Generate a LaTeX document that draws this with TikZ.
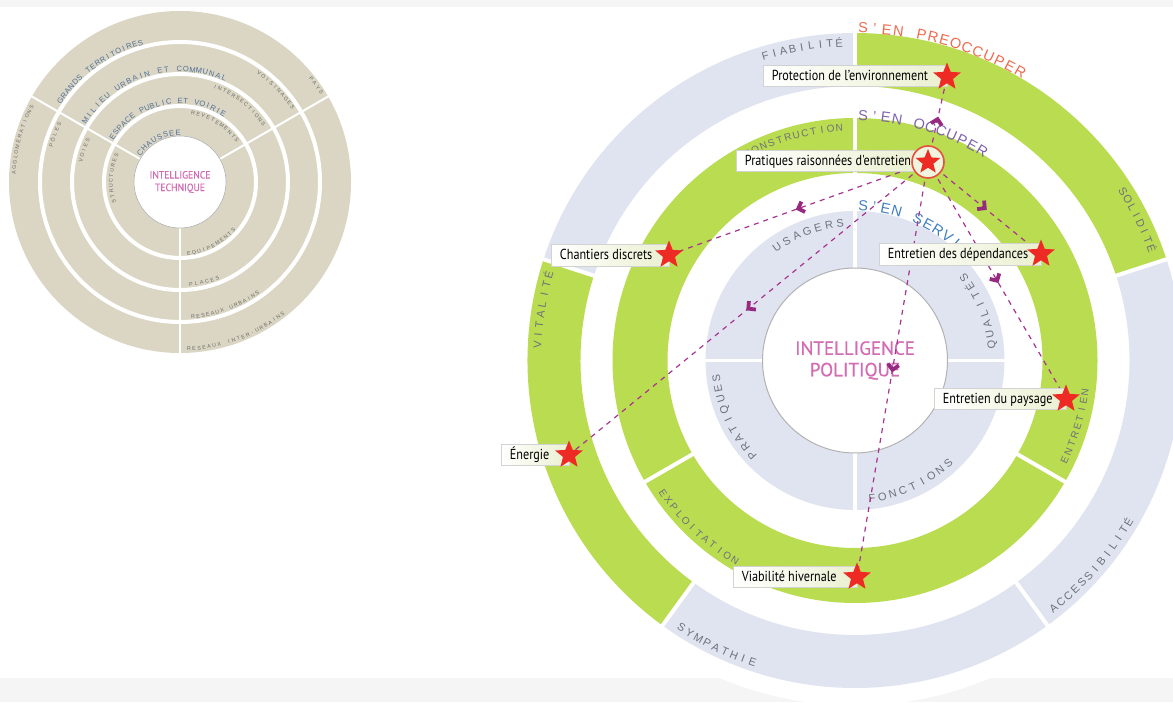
\documentclass[tikz,border=0pt]{standalone}
\usepackage{fontspec}
\setmainfont{Liberation Sans}
\newfontfamily\labfont[FakeStretch=0.84]{PT Sans}
\newfontfamily\ptfont[FakeBold=0.5]{PT Sans}
\newfontfamily\ptcond[FakeStretch=0.92,FakeBold=0.3]{PT Sans}
\usetikzlibrary{shapes.geometric,decorations.markings}
\pgfdeclarelayer{bg}
\pgfdeclarelayer{lines}
\pgfsetlayers{bg,lines,main}

\definecolor{ringgreen}{HTML}{BADC50}
\definecolor{ringblue}{HTML}{E0E4F0}
\definecolor{tanbg}{HTML}{DBD6C3}
\definecolor{txtgray}{HTML}{6E717A}
\definecolor{smallgray}{HTML}{6A6A6A}
\definecolor{pinkt}{HTML}{D36CB2}
\definecolor{orangeh}{HTML}{F0694C}
\definecolor{purpleh}{HTML}{7E62AE}
\definecolor{blueh}{HTML}{3F7FBF}
\definecolor{slate}{HTML}{50709A}
\definecolor{dashc}{HTML}{A8348F}
\definecolor{arrowc}{HTML}{962A80}
\definecolor{starred}{HTML}{EE2A24}
\definecolor{boxline}{HTML}{D2D2D2}
\definecolor{boxgreen}{HTML}{EAF0D0}
\definecolor{bandgray}{HTML}{F5F5F5}
\definecolor{circred}{HTML}{E5503F}
\definecolor{circfill}{HTML}{F0F3DD}

% characters along an arc: #1 centre, #2 baseline radius, #3 start angle, #4 step, #5 rotation offset, #6 style, #7 name prefix, #8 characters
\newcommand\arcchars[8]{%
  \foreach \ch [count=\k from 0] in {#8}{%
    \pgfmathsetmacro\ang{#3+\k*(#4)}%
    \node[#6, rotate={\ang+(#5)}] (#7-\k) at ([shift={(\ang:#2)}]#1) {\ch};
  }%
}
% annular sector: #1 style, #2 centre, #3 inner r, #4 outer r, #5 a1, #6 a2
\newcommand\annsec[6]{%
  \fill[#1] ([shift={(#5:#4)}]#2) arc[start angle=#5,end angle=#6,radius=#4]
    -- ([shift={(#6:#3)}]#2) arc[start angle=#6,end angle=#5,radius=#3] -- cycle;}
% radial separator: #1 centre, #2 r1, #3 r2, #4 angle, #5 width
\newcommand\radsep[5]{%
  \draw[sepline=#5] ([shift={(#4:#2)}]#1) -- ([shift={(#4:#3)}]#1);}

\tikzset{
  ctxt/.style={anchor=base, inner sep=0pt},
  otxt/.style={ctxt, font=\fontsize{11}{13}\selectfont, text=txtgray},
  mtxt/.style={ctxt, font=\fontsize{10}{12}\selectfont, text=txtgray},
  itxt/.style={ctxt, font=\fontsize{11}{13}\selectfont, text=txtgray},
  htxt/.style={ctxt, font=\fontsize{14.5}{16}\selectfont},
  ltitle/.style={ctxt, font=\fontsize{7.6}{10}\selectfont, text=slate},
  lsmall/.style={ctxt, font=\fontsize{5.3}{7}\selectfont, text=smallgray},
  labbox/.style={draw=boxline, line width=0.8pt, left color=white, right color=boxgreen,
    anchor=west, inner xsep=8.5pt, inner ysep=0pt, minimum height=21.5pt,
    text height=11pt, text depth=2pt, font=\labfont\fontsize{14.5}{16}\selectfont, text=black},
  starn/.style={star, star points=5, star point ratio=2.3, fill=starred, draw=none,
    minimum size=29pt, inner sep=0pt},
  sepline/.style={draw=white, line width=#1},
  conn/.style={draw=dashc, line width=1.2pt, dash pattern=on 5pt off 5pt,
    postaction={decorate},
    decoration={markings, mark=at position 0.5 with
      {\draw[solid, draw=arrowc, line width=3.8pt, line join=miter, line cap=butt] (-5pt,5.5pt) -- (0.3pt,0pt) -- (-5pt,-5.5pt);}}},
}

\begin{document}
\begin{tikzpicture}[x=1pt,y=1pt]
\useasboundingbox (0,0) rectangle (1173,702);
\coordinate (C) at (855,341.5);
\coordinate (L) at (180,520);

\begin{pgfonlayer}{bg}
% background
\fill[white] (0,0) rectangle (1173,702);
\fill[bandgray] (0,695) rectangle (1173,702);
\fill[bandgray] (0,0) rectangle (1173,24);
\fill[white] (C) circle (345);

% ---------- left diagram ----------
\fill[tanbg] (L) circle (171);
\foreach \r in {76,108,140} {\draw[sepline=4] (L) circle (\r);}
\radsep{L}{45}{172}{30}{2}
\radsep{L}{45}{172}{150}{2}
\radsep{L}{45}{172}{270}{2}
\node[circle, draw=black!30, line width=0.6pt, fill=white, minimum size=92pt, inner sep=0pt,
  font=\ptcond\fontsize{10.5}{12.5}\selectfont, text=pinkt, align=center] (tcore) at (L) {INTELLIGENCE\\TECHNIQUE};

\arcchars{L}{142.1}{145.7}{-2.34}{-90}{ltitle}{gt}{G,R,A,N,D,S,,T,E,R,R,I,T,O,I,R,E,S}
\arcchars{L}{110.3}{146.9}{-3.33}{-90}{ltitle}{mu}{M,I,L,I,E,U,,U,R,B,A,I,N,,E,T,,C,O,M,M,U,N,A,L}
\arcchars{L}{78.6}{146.1}{-4.01}{-90}{ltitle}{ep}{E,S,P,A,C,E,,P,U,B,L,I,C,,E,T,,V,O,I,R,I,E}
\arcchars{L}{46.8}{144}{-7.39}{-90}{ltitle}{ch}{C,H,A,U,S,S,E,E}
\arcchars{L}{164.6}{176.9}{-1.83}{-90}{lsmall}{ag}{A,G,G,L,O,M,É,R,A,T,I,O,N,S}
\arcchars{L}{132}{164.1}{-2.375}{-90}{lsmall}{po}{P,Ô,L,E,S}
\arcchars{L}{99.7}{167.6}{-3.03}{-90}{lsmall}{vo}{V,O,I,E,S}
\arcchars{L}{67.3}{196.6}{-4.42}{-90}{lsmall}{st}{S,T,R,U,C,T,U,R,E,S}
\arcchars{L}{165.3}{38.2}{-1.93}{-90}{lsmall}{pa}{P,A,Y,S}
\arcchars{L}{133}{54.1}{-2.28}{-90}{lsmall}{vs}{V,O,I,S,I,N,A,G,E,S}
\arcchars{L}{99.8}{69.8}{-2.89}{-90}{lsmall}{in}{I,N,T,E,R,S,E,C,T,I,O,N,S}
\arcchars{L}{68.5}{79.3}{-4.29}{-90}{lsmall}{re}{R,E,V,E,T,E,M,E,N,T,S}
\arcchars{L}{73.5}{277.2}{4.06}{90}{lsmall}{eq}{E,Q,U,I,P,E,M,E,N,T,S}
\arcchars{L}{104.8}{276.1}{3.04}{90}{lsmall}{pl}{P,L,A,C,E,S}
\arcchars{L}{137.2}{275.6}{2.08}{90}{lsmall}{ru}{R,E,S,E,A,U,X,,U,R,B,A,I,N,S}
\arcchars{L}{169}{273.1}{1.735}{90}{lsmall}{ri}{R,E,S,E,A,U,X,,I,N,T,E,R,-,U,R,B,A,I,N,S}

% ---------- right diagram ----------
% outer ring
\annsec{ringblue}{C}{274.5}{327.5}{90}{162}
\annsec{ringgreen}{C}{274.5}{327.5}{162}{234}
\annsec{ringblue}{C}{274.5}{327.5}{234}{306}
\annsec{ringblue}{C}{274.5}{327.5}{306}{378}
\annsec{ringgreen}{C}{274.5}{327.5}{18}{90}
% middle ring
\fill[ringgreen, even odd rule] (C) circle (242.5) (C) circle (187.5);
% inner ring
\fill[ringblue, even odd rule] (C) circle (149.5) (C) circle (92.5);
% separators
\foreach \a in {18,90,162,234,306} {\radsep{C}{273}{329}{\a}{4}}
\foreach \a in {90,210,330} {\radsep{C}{186}{244}{\a}{4}}
\foreach \a in {0,90,180,270} {\radsep{C}{92}{151}{\a}{3.5}}
\node[circle, draw=black!30, line width=1pt, fill=white, minimum size=185pt, inner sep=0pt,
  font=\ptfont\fontsize{19}{21.5}\selectfont, text=pinkt, align=center] (core) at (C) {INTELLIGENCE\\POLITIQUE};

% ring texts
\arcchars{C}{314}{106.4}{-1.69}{-90}{otxt}{fia}{F,I,A,B,I,L,I,T,É}
\arcchars{C}{313}{32.2}{-1.64}{-90}{otxt}{sol}{S,O,L,I,D,I,T,É}
\arcchars{C}{314}{177.2}{-1.84}{-90}{otxt}{vit}{V,I,T,A,L,I,T,É}
\arcchars{C}{322.5}{237}{1.78}{90}{otxt}{sym}{S,Y,M,P,A,T,H,I,E}
\arcchars{C}{321.5}{308.7}{1.73}{90}{otxt}{acc}{A,C,C,E,S,S,I,B,I,L,I,T,É}
\arcchars{C}{229.5}{117.5}{-2.15}{-90}{mtxt}{con}{C,O,N,S,T,R,U,C,T,I,O,N}
\arcchars{C}{235.6}{334.6}{2.2}{90}{mtxt}{ent}{E,N,T,R,E,T,I,E,N}
\arcchars{C}{236.6}{214.6}{2.22}{90}{mtxt}{exp}{E,X,P,L,O,I,T,A,T,I,O,N}
\arcchars{C}{134}{124.5}{-4.72}{-90}{itxt}{usa}{U,S,A,G,E,R,S}
\arcchars{C}{141}{6.5}{4.39}{90}{itxt}{qua}{Q,U,A,L,I,T,É,S}
\arcchars{C}{136}{222.6}{-4.43}{-90}{itxt}{pra}{P,R,A,T,I,Q,U,E,S}
\arcchars{C}{142.5}{277}{4.4}{90}{itxt}{fon}{F,O,N,C,T,I,O,N,S}
% headings
\arcchars{C}{327.5}{88.6}{-2.03}{-90}{htxt,text=orangeh}{pre}{S,',E,N,,P,R,E,O,C,C,U,P,E,R}
\arcchars{C}{240}{88.1}{-2.67}{-90}{htxt,text=purpleh}{occ}{S,',E,N,,O,C,C,U,P,E,R}
\arcchars{C}{150}{87}{-4.2}{-90}{htxt,text=blueh}{ser}{S,',E,N,,S,E,R,V,I,R}
\end{pgfonlayer}

% ---------- labels and stars ----------
\node[labbox] (lprot) at (763,626) {\makebox[167pt][l]{Protection de l’environnement}};
\node[labbox] (lprat) at (736,541) {\makebox[175pt][l]{Pratiques raisonnées d'entretien}};
\node[labbox] (lchan) at (551,446.5) {\makebox[101pt][l]{Chantiers discrets}};
\node[labbox] (ldep) at (879,447.5) {\makebox[145pt][l]{Entretien des dépendances}};
\node[labbox] (lpay) at (934,303) {\makebox[115pt][l]{Entretien du paysage}};
\node[labbox] (lene) at (501,247) {\makebox[51pt][l]{Énergie}};
\node[labbox] (lvia) at (733,125) {\makebox[107pt][l]{Viabilité hivernale}};

\node[starn] (sprot) at (947,625) {};
\node[circle, draw=circred, fill=circfill, line width=1.6pt, minimum size=32pt, inner sep=0pt] (cprat) at (928,540) {};
\node[starn, minimum size=26pt] (sprat) at (cprat.center) {};
\node[starn] (schan) at (669,447) {};
\node[starn] (sdep) at (1041,448) {};
\node[starn] (spay) at (1066,303) {};
\node[starn] (sene) at (569,247) {};
\node[starn] (svia) at (857,125) {};

% ---------- connectors ----------
\begin{pgfonlayer}{lines}
\draw[conn] (cprat.center) -- (sprot.center);
\draw[conn] (cprat.center) -- (schan.center);
\draw[conn] (cprat.center) -- (sdep.center);
\draw[conn] (cprat.center) -- (spay.center);
\draw[conn] (cprat.center) -- (sene.center);
\draw[conn] (cprat.center) -- (svia.center);
\end{pgfonlayer}
\end{tikzpicture}
\end{document}
